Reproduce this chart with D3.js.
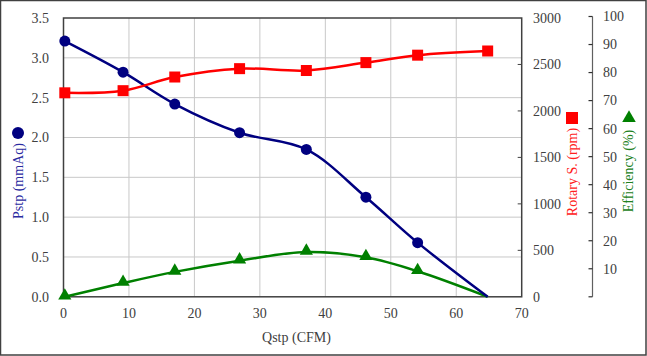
<!DOCTYPE html>
<html><head><meta charset="utf-8">
<script src="https://cdn.jsdelivr.net/npm/d3@7"></script>
<style>
html,body{margin:0;padding:0;background:#fff;}
svg{display:block;}
text{font-family:"Liberation Serif","DejaVu Serif",serif;}
</style></head>
<body>
<svg id="c" width="647" height="356"></svg>
<script>
const qstp = [0.2, 9.1, 17.0, 26.9, 37.1, 46.2, 54.1, 64.8];
const pstp = [3.21, 2.82, 2.42, 2.06, 1.85, 1.25, 0.68, 0.0];
const rpm = [2195, 2218, 2365, 2455, 2435, 2520, 2600, 2645];
const eff = [0.0, 4.9, 8.9, 12.9, 16.0, 14.1, 9.1, 0.0];
const xTicks = [0,10,20,30,40,50,60,70];
const pTicks = [0,0.5,1,1.5,2,2.5,3,3.5];
const rTicks = [0,500,1000,1500,2000,2500,3000];
const eTicks = [10,20,30,40,50,60,70,80,90,100];

const svg = d3.select("#c");
const L = 63.5, R = 521.7, T = 18, B = 296.8;
const x = d3.scaleLinear().domain([0,70]).range([L,R]);
const yP = d3.scaleLinear().domain([0,3.5]).range([B,T]);
const yR = d3.scaleLinear().domain([0,3000]).range([B,T]);
const yE = d3.scaleLinear().domain([0,100]).range([B,16.5]);
const axisCol = "#404040", textCol = "#404040", gridCol = "#c8c8c8";

// outer border
svg.append("rect").attr("x",0.5).attr("y",0.5).attr("width",645.5).attr("height",354.5)
  .attr("fill","none").attr("stroke","#404040").attr("stroke-width",1.5);

// grid
svg.append("g").selectAll("line").data(xTicks.slice(1,-1)).join("line")
  .attr("x1",d=>x(d)).attr("x2",d=>x(d)).attr("y1",T).attr("y2",B)
  .attr("stroke",gridCol).attr("stroke-width",1);
svg.append("g").selectAll("line").data(pTicks.slice(1,-1)).join("line")
  .attr("x1",L).attr("x2",R).attr("y1",d=>yP(d)).attr("y2",d=>yP(d))
  .attr("stroke",gridCol).attr("stroke-width",1);

// plot frame
svg.append("rect").attr("x",L).attr("y",T).attr("width",R-L).attr("height",B-T)
  .attr("fill","none").attr("stroke",axisCol).attr("stroke-width",1.5);

// left axis labels
svg.append("g").selectAll("text").data(pTicks).join("text")
  .attr("x",49).attr("y",d=>yP(d)).attr("dy","0.35em").attr("text-anchor","end")
  .attr("font-size",14).attr("fill",textCol).text(d=>d.toFixed(1));
// bottom labels
svg.append("g").selectAll("text").data(xTicks).join("text")
  .attr("x",d=>x(d)).attr("y",313).attr("dy","0.35em").attr("text-anchor","middle")
  .attr("font-size",14).attr("fill",textCol).text(d=>d);
// rpm axis ticks (inside) + labels
svg.append("g").selectAll("line").data(rTicks.slice(1,-1)).join("line")
  .attr("x1",R-4).attr("x2",R).attr("y1",d=>yR(d)).attr("y2",d=>yR(d))
  .attr("stroke",axisCol).attr("stroke-width",1);
svg.append("g").selectAll("text").data(rTicks).join("text")
  .attr("x",533).attr("y",d=>yR(d)).attr("dy","0.35em").attr("text-anchor","start")
  .attr("font-size",14).attr("fill",textCol).text(d=>d);
// efficiency axis
const ex = 592.5;
svg.append("line").attr("x1",ex).attr("x2",ex).attr("y1",yE(100)).attr("y2",yE(0))
  .attr("stroke","#606060").attr("stroke-width",1.2);
svg.append("g").selectAll("line").data([0].concat(eTicks)).join("line")
  .attr("x1",ex-4).attr("x2",ex).attr("y1",d=>yE(d)).attr("y2",d=>yE(d))
  .attr("stroke","#303030").attr("stroke-width",1.2);
svg.append("g").selectAll("text").data(eTicks).join("text")
  .attr("x",603).attr("y",d=>yE(d)).attr("dy","0.35em").attr("text-anchor","start")
  .attr("font-size",14).attr("fill",textCol).text(d=>d);

// axis titles
svg.append("text").attr("x",296.5).attr("y",337).attr("dy","0.35em").attr("text-anchor","middle")
  .attr("font-size",14).attr("fill",textCol).text("Qstp (CFM)");
svg.append("text").attr("transform","translate(18,181) rotate(-90)").attr("dy","0.35em")
  .attr("text-anchor","middle").attr("font-size",14).attr("fill","#2a2aa0").text("Pstp (mmAq)");
svg.append("circle").attr("cx",18).attr("cy",133).attr("r",6).attr("fill","#000080");
svg.append("text").attr("transform","translate(572,172) rotate(-90)").attr("dy","0.35em")
  .attr("text-anchor","middle").attr("font-size",14).attr("fill","#ff2020").text("Rotary S. (rpm)");
svg.append("rect").attr("x",566).attr("y",112).attr("width",12).attr("height",12).attr("fill","#ff0000");
svg.append("text").attr("transform","translate(628,171) rotate(-90)").attr("dy","0.35em")
  .attr("text-anchor","middle").attr("font-size",14).attr("fill","#208020").text("Efficiency (%)");
svg.append("path").attr("d",d3.symbol(d3.symbolTriangle,80)()).attr("transform","translate(629,118)")
  .attr("fill","#008000");

// series
const curve = d3.curveCatmullRom.alpha(0.5);
svg.append("clipPath").attr("id","pc").append("rect")
  .attr("x",L).attr("y",T).attr("width",R-L).attr("height",B-T+2);
const g = svg.append("g").attr("clip-path","url(#pc)");

g.append("path").datum(qstp.map((q,i)=>[q,eff[i]]))
  .attr("d",d3.line().x(d=>x(d[0])).y(d=>yE(d[1])).curve(curve))
  .attr("fill","none").attr("stroke","#008000").attr("stroke-width",2.5);
g.append("path").datum(qstp.map((q,i)=>[q,pstp[i]]))
  .attr("d",d3.line().x(d=>x(d[0])).y(d=>yP(d[1])).curve(curve))
  .attr("fill","none").attr("stroke","#000080").attr("stroke-width",2.5);
g.append("path").datum(qstp.map((q,i)=>[q,rpm[i]]))
  .attr("d",d3.line().x(d=>x(d[0])).y(d=>yR(d[1])).curve(curve))
  .attr("fill","none").attr("stroke","#ff0000").attr("stroke-width",2.5);

const n = qstp.length;
svg.append("g").selectAll("path").data(d3.range(n-1)).join("path")
  .attr("d",d3.symbol(d3.symbolTriangle,75)())
  .attr("transform",i=>`translate(${x(qstp[i])},${yE(eff[i])-1})`).attr("fill","#008000");
svg.append("g").selectAll("circle").data(d3.range(n-1)).join("circle")
  .attr("cx",i=>x(qstp[i])).attr("cy",i=>yP(pstp[i])).attr("r",5.5).attr("fill","#000080");
svg.append("g").selectAll("rect").data(d3.range(n)).join("rect")
  .attr("x",i=>x(qstp[i])-5.5).attr("y",i=>yR(rpm[i])-5.5).attr("width",11).attr("height",11)
  .attr("fill","#ff0000");
</script>
</body></html>
